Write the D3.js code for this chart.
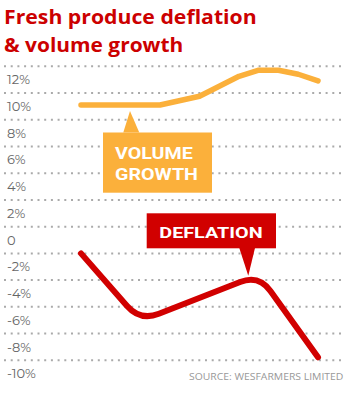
<!DOCTYPE html>
<html>
<head>
<meta charset="utf-8">
<script src="https://cdn.jsdelivr.net/npm/d3@7"></script>
<style>
  html, body { margin: 0; padding: 0; background: #fff; }
  svg { display: block; }
</style>
</head>
<body>
<svg id="chart" width="350" height="395"></svg>
<script>
// ---- data ----
const titleLines = ["Fresh produce deflation", "& volume growth"];
const yTickValues = [12, 10, 8, 6, 4, 2, 0, -2, -4, -6, -8, -10];
const yTickLabels = ["12%", "10%", "8%", "6%", "4%", "2%", "0", "-2%", "-4%", "-6%", "-8%", "-10%"];
const gridValues = [13, 11, 9, 7, 5, 3, 1, -1, -3, -5, -7, -9];

const volumePeriods = [0, 4, 6, 8, 9, 10, 11, 12];
const volumeValues  = [10.1, 10.1, 10.75, 12.25, 12.7, 12.7, 12.4, 11.9];

const deflationPeriods = [0, 3, 9, 12];
const deflationValues  = [-1.0, -6.06, -2.6, -8.77];

const calloutLabels = [["VOLUME", "GROWTH"], ["DEFLATION"]];
const calloutTargets = [[2.48, 9.65], [8.47, -2.67]];
const sourceText = "SOURCE: WESFARMERS LIMITED";

// ---- styles ----
const RED = "#d10000";
const TITLE_RED = "#cc0000";
const YELLOW = "#fbb03b";

const svg = d3.select("#chart");

const x = d3.scaleLinear().domain([0, 12]).range([81, 318]);
const y = d3.scaleLinear().domain([-10, 12]).range([373.7, 79.6]);

// title
const titleWidths = [252.7, 179.3];
titleLines.forEach((t, i) => {
  svg.append("text")
    .attr("x", 4).attr("y", 24 + i * 27.7)
    .attr("font-family", "'Open Sans', sans-serif")
    .attr("font-weight", 700).attr("font-size", 20)
    .attr("fill", TITLE_RED)
    .attr("textLength", titleWidths[i]).attr("lengthAdjust", "spacingAndGlyphs")
    .text(t);
});

// grid
svg.append("g").selectAll("line").data(gridValues).join("line")
  .attr("x1", 4).attr("x2", 344)
  .attr("y1", d => y(d)).attr("y2", d => y(d))
  .attr("stroke", "#aaa").attr("stroke-width", 2)
  .attr("stroke-dasharray", "2,4.7");

// y labels
svg.append("g").selectAll("text").data(yTickValues).join("text")
  .attr("x", 7).attr("y", d => y(d) + 4.6)
  .attr("font-family", "Montserrat, 'Open Sans', sans-serif")
  .attr("font-size", 13).attr("fill", "#666")
  .text((d, i) => yTickLabels[i]);

// volume line
const volData = volumePeriods.map((p, i) => [p, volumeValues[i]]);
svg.append("path")
  .attr("d", d3.line().x(d => x(d[0])).y(d => y(d[1]))(volData))
  .attr("fill", "none").attr("stroke", YELLOW).attr("stroke-width", 5.5)
  .attr("stroke-linecap", "round").attr("stroke-linejoin", "round");

// deflation line with rounded corners
const defPts = deflationPeriods.map((p, i) => [x(p), y(deflationValues[i])]);
function roundedPath(pts, r) {
  let d = `M${pts[0][0]},${pts[0][1]}`;
  for (let i = 1; i < pts.length - 1; i++) {
    const [px, py] = pts[i - 1], [vx, vy] = pts[i], [nx, ny] = pts[i + 1];
    const l1 = Math.hypot(px - vx, py - vy), l2 = Math.hypot(nx - vx, ny - vy);
    const ax = vx + (px - vx) / l1 * r, ay = vy + (py - vy) / l1 * r;
    const bx = vx + (nx - vx) / l2 * r, by = vy + (ny - vy) / l2 * r;
    d += `L${ax},${ay}Q${vx},${vy},${bx},${by}`;
  }
  const last = pts[pts.length - 1];
  d += `L${last[0]},${last[1]}`;
  return d;
}
svg.append("path")
  .attr("d", roundedPath(defPts, 20))
  .attr("fill", "none").attr("stroke", RED).attr("stroke-width", 6)
  .attr("stroke-linecap", "round").attr("stroke-linejoin", "round");

// callout: volume growth
{
  const [tx, ty] = [x(calloutTargets[0][0]), y(calloutTargets[0][1])];
  const g = svg.append("g");
  g.append("path")
    .attr("d", `M${tx - 6.7},${132.5}L${tx},${ty}L${tx + 9.3},${132.5}Z`)
    .attr("fill", YELLOW);
  g.append("rect").attr("x", 103).attr("y", 132.5).attr("width", 109).attr("height", 60.2)
    .attr("fill", YELLOW);
  const widths = [77.7, 83];
  calloutLabels[0].forEach((t, i) => {
    g.append("text")
      .attr("x", 115).attr("y", 159.3 + i * 20.7)
      .attr("font-family", "Roboto, sans-serif")
      .attr("font-weight", 700).attr("font-size", 17.3)
      .attr("fill", "#fff")
      .attr("textLength", widths[i]).attr("lengthAdjust", "spacingAndGlyphs")
      .text(t);
  });
}

// callout: deflation
{
  const [tx, ty] = [x(calloutTargets[1][0]), y(calloutTargets[1][1])];
  const g = svg.append("g");
  g.append("path")
    .attr("d", `M${tx - 9},${248}L${tx},${ty}L${tx + 6.7},${248}Z`)
    .attr("fill", RED);
  g.append("rect").attr("x", 146.7).attr("y", 213.3).attr("width", 129.3).attr("height", 35)
    .attr("fill", RED);
  g.append("text")
    .attr("x", 159.3).attr("y", 237.7)
    .attr("font-family", "Roboto, sans-serif")
    .attr("font-weight", 700).attr("font-size", 15.5)
    .attr("fill", "#fff")
    .attr("textLength", 103.4).attr("lengthAdjust", "spacingAndGlyphs")
    .text(calloutLabels[1][0]);
}

// source
svg.append("text")
  .attr("x", 189).attr("y", 379.5)
  .attr("font-family", "'Open Sans', sans-serif")
  .attr("font-size", 9.5).attr("fill", "#999")
  .attr("textLength", 154.3).attr("lengthAdjust", "spacingAndGlyphs")
  .text(sourceText);
</script>
</body>
</html>
